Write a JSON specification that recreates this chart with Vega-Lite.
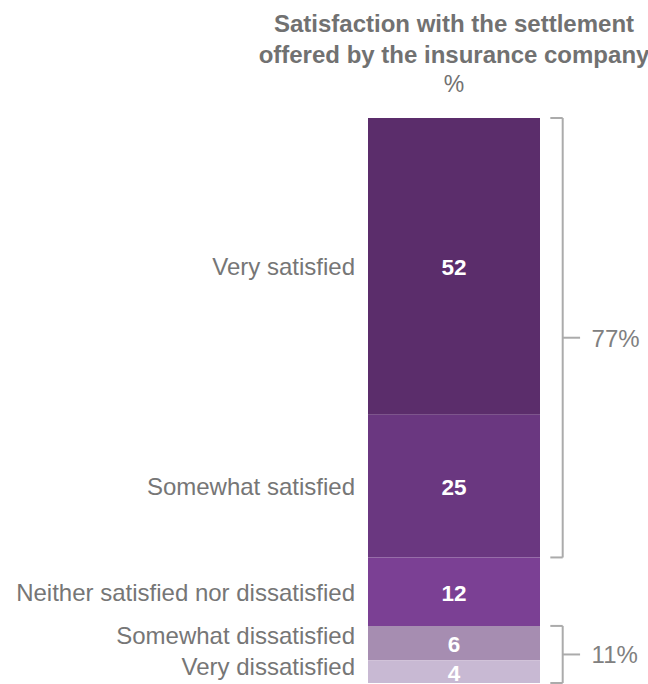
{
  "$schema": "https://vega.github.io/schema/vega-lite/v6.json",
  "autosize": {"type": "none"},
  "padding": {"left": 368, "top": 118, "right": 108, "bottom": 1},
  "width": 172,
  "height": 565,
  "background": "white",
  "config": {"view": {"stroke": null}, "font": "Liberation Sans"},
  "title": {
    "text": ["Satisfaction with the settlement", "offered by the insurance company"],
    "subtitle": "%",
    "anchor": "middle",
    "frame": "group",
    "font": "Liberation Sans",
    "fontSize": 24,
    "fontWeight": "bold",
    "color": "#717171",
    "lineHeight": 31,
    "subtitleFont": "Liberation Sans",
    "subtitleFontSize": 23,
    "subtitleColor": "#717171",
    "subtitlePadding": 6,
    "offset": 20
  },
  "datasets": {
    "bars": [
      {"category": "Very satisfied", "value": 52, "order": 1},
      {"category": "Somewhat satisfied", "value": 25, "order": 2},
      {"category": "Neither satisfied nor dissatisfied", "value": 12, "order": 3},
      {"category": "Somewhat dissatisfied", "value": 6, "order": 4},
      {"category": "Very dissatisfied", "value": 4, "order": 5}
    ],
    "brackets": [
      {"group": "Satisfied", "start": 0, "end": 77, "label": "77%"},
      {"group": "Dissatisfied", "start": 89, "end": 99, "label": "11%"}
    ]
  },
  "layer": [
    {
      "data": {"name": "bars"},
      "transform": [
        {"stack": "value", "groupby": [], "sort": [{"field": "order", "order": "ascending"}], "as": ["y0", "y1"]},
        {"calculate": "(datum.y0 + datum.y1) / 2", "as": "mid"}
      ],
      "layer": [
        {
          "mark": {"type": "bar"},
          "encoding": {
            "x": {"datum": 0, "type": "quantitative", "scale": {"domain": [0, 1], "nice": false, "zero": false}, "axis": null},
            "x2": {"datum": 1},
            "y": {"field": "y0", "type": "quantitative", "scale": {"domain": [0, 99], "reverse": true, "nice": false, "zero": false}, "axis": null},
            "y2": {"field": "y1"},
            "color": {
              "field": "category",
              "type": "nominal",
              "legend": null,
              "scale": {
                "domain": ["Very satisfied", "Somewhat satisfied", "Neither satisfied nor dissatisfied", "Somewhat dissatisfied", "Very dissatisfied"],
                "range": ["#5b2d6b", "#6a3780", "#7b4094", "#a68db1", "#c8b9d3"]
              }
            }
          }
        },
        {
          "mark": {"type": "text", "color": "white", "fontWeight": "bold", "fontSize": 22.5, "baseline": "middle", "align": "center", "dy": 2},
          "encoding": {
            "x": {"datum": 0.5, "type": "quantitative"},
            "y": {"field": "mid", "type": "quantitative"},
            "text": {"field": "value", "type": "quantitative"}
          }
        },
        {
          "transform": [{"filter": "datum.order <= 3"}],
          "mark": {"type": "text", "color": "#767676", "fontSize": 24, "baseline": "middle", "align": "right", "dx": -13, "dy": 2},
          "encoding": {
            "x": {"datum": 0, "type": "quantitative"},
            "y": {"field": "mid", "type": "quantitative"},
            "text": {"field": "category", "type": "nominal"}
          }
        },
        {
          "transform": [{"filter": "datum.order == 4"}],
          "mark": {"type": "text", "color": "#767676", "fontSize": 24, "baseline": "middle", "align": "right", "dx": -13, "dy": -6},
          "encoding": {
            "x": {"datum": 0, "type": "quantitative"},
            "y": {"field": "mid", "type": "quantitative"},
            "text": {"field": "category", "type": "nominal"}
          }
        },
        {
          "transform": [{"filter": "datum.order == 5"}],
          "mark": {"type": "text", "color": "#767676", "fontSize": 24, "baseline": "middle", "align": "right", "dx": -13, "dy": -4},
          "encoding": {
            "x": {"datum": 0, "type": "quantitative"},
            "y": {"field": "mid", "type": "quantitative"},
            "text": {"field": "category", "type": "nominal"}
          }
        }
      ]
    },
    {
      "data": {"name": "brackets"},
      "transform": [{"calculate": "(datum.start + datum.end) / 2", "as": "mid"}],
      "layer": [
        {
          "mark": {"type": "rule", "color": "#ababab", "strokeWidth": 2},
          "encoding": {
            "x": {"datum": 1.132, "type": "quantitative"},
            "y": {"field": "start", "type": "quantitative"},
            "y2": {"field": "end"}
          }
        },
        {
          "mark": {"type": "rule", "color": "#ababab", "strokeWidth": 2},
          "encoding": {
            "x": {"datum": 1.06, "type": "quantitative"},
            "x2": {"datum": 1.132},
            "y": {"field": "start", "type": "quantitative"}
          }
        },
        {
          "mark": {"type": "rule", "color": "#ababab", "strokeWidth": 2},
          "encoding": {
            "x": {"datum": 1.06, "type": "quantitative"},
            "x2": {"datum": 1.132},
            "y": {"field": "end", "type": "quantitative"}
          }
        },
        {
          "mark": {"type": "rule", "color": "#ababab", "strokeWidth": 2},
          "encoding": {
            "x": {"datum": 1.132, "type": "quantitative"},
            "x2": {"datum": 1.233},
            "y": {"field": "mid", "type": "quantitative"}
          }
        },
        {
          "mark": {"type": "text", "color": "#808080", "fontSize": 24, "baseline": "middle", "align": "left", "dy": 2},
          "encoding": {
            "x": {"datum": 1.3, "type": "quantitative"},
            "y": {"field": "mid", "type": "quantitative"},
            "text": {"field": "label", "type": "nominal"}
          }
        }
      ]
    }
  ]
}
